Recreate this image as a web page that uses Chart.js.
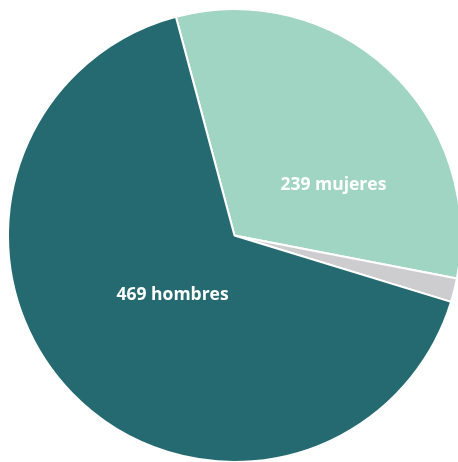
<!DOCTYPE html>
<html>
<head>
<meta charset="utf-8">
<script src="https://cdn.jsdelivr.net/npm/chart.js@4/dist/chart.umd.min.js"></script>
<style>
    html, body { margin: 0; padding: 0; background: #fff; overflow: hidden; }
    #wrap { position: absolute; left: 0; top: 0; width: 463px; height: 463px; }
</style>
</head>
<body>
<div id="wrap"><canvas id="pieChart"></canvas></div>
<script>
// slices clockwise from the top, share of total in percent
const categories = ["mujeres", "sin dato", "hombres"];
const counts = [239, null, 469];
const shares = [32.2, 1.7, 66.1];
const colors = ["#a0d5c3", "#cdcdcf", "#256a70"];

// where each label sits: angle clockwise from top (deg) and fraction of radius
const labelSpots = [
    { angle: 63, r: 0.49 },
    null,
    { angle: 226, r: 0.38 }
];

const sliceLabels = {
    id: "sliceLabels",
    afterDatasetsDraw(chart) {
        const { ctx } = chart;
        const meta = chart.getDatasetMeta(0);
        ctx.save();
        ctx.fillStyle = "#ffffff";
        ctx.font = "bold 17.5px 'Open Sans', sans-serif";
        ctx.textAlign = "center";
        ctx.textBaseline = "middle";
        meta.data.forEach((arc, i) => {
            const spot = labelSpots[i];
            if (!spot || counts[i] == null) return;
            const a = (spot.angle - 90) * Math.PI / 180;
            const x = arc.x + Math.cos(a) * arc.outerRadius * spot.r;
            const y = arc.y + Math.sin(a) * arc.outerRadius * spot.r;
            ctx.fillText(`${counts[i]} ${categories[i]}`, x, y);
        });
        ctx.restore();
    }
};

new Chart(document.getElementById("pieChart"), {
    type: "pie",
    data: {
        labels: categories,
        datasets: [{
            data: shares,
            backgroundColor: colors,
            borderColor: "#ffffff",
            borderWidth: 2
        }]
    },
    options: {
        responsive: true,
        maintainAspectRatio: false,
        animation: false,
        rotation: -15,
        layout: { padding: { left: 6, top: 8, right: 0, bottom: 0 } },
        plugins: {
            legend: { display: false },
            tooltip: { enabled: false }
        }
    },
    plugins: [sliceLabels]
});
</script>
</body>
</html>
